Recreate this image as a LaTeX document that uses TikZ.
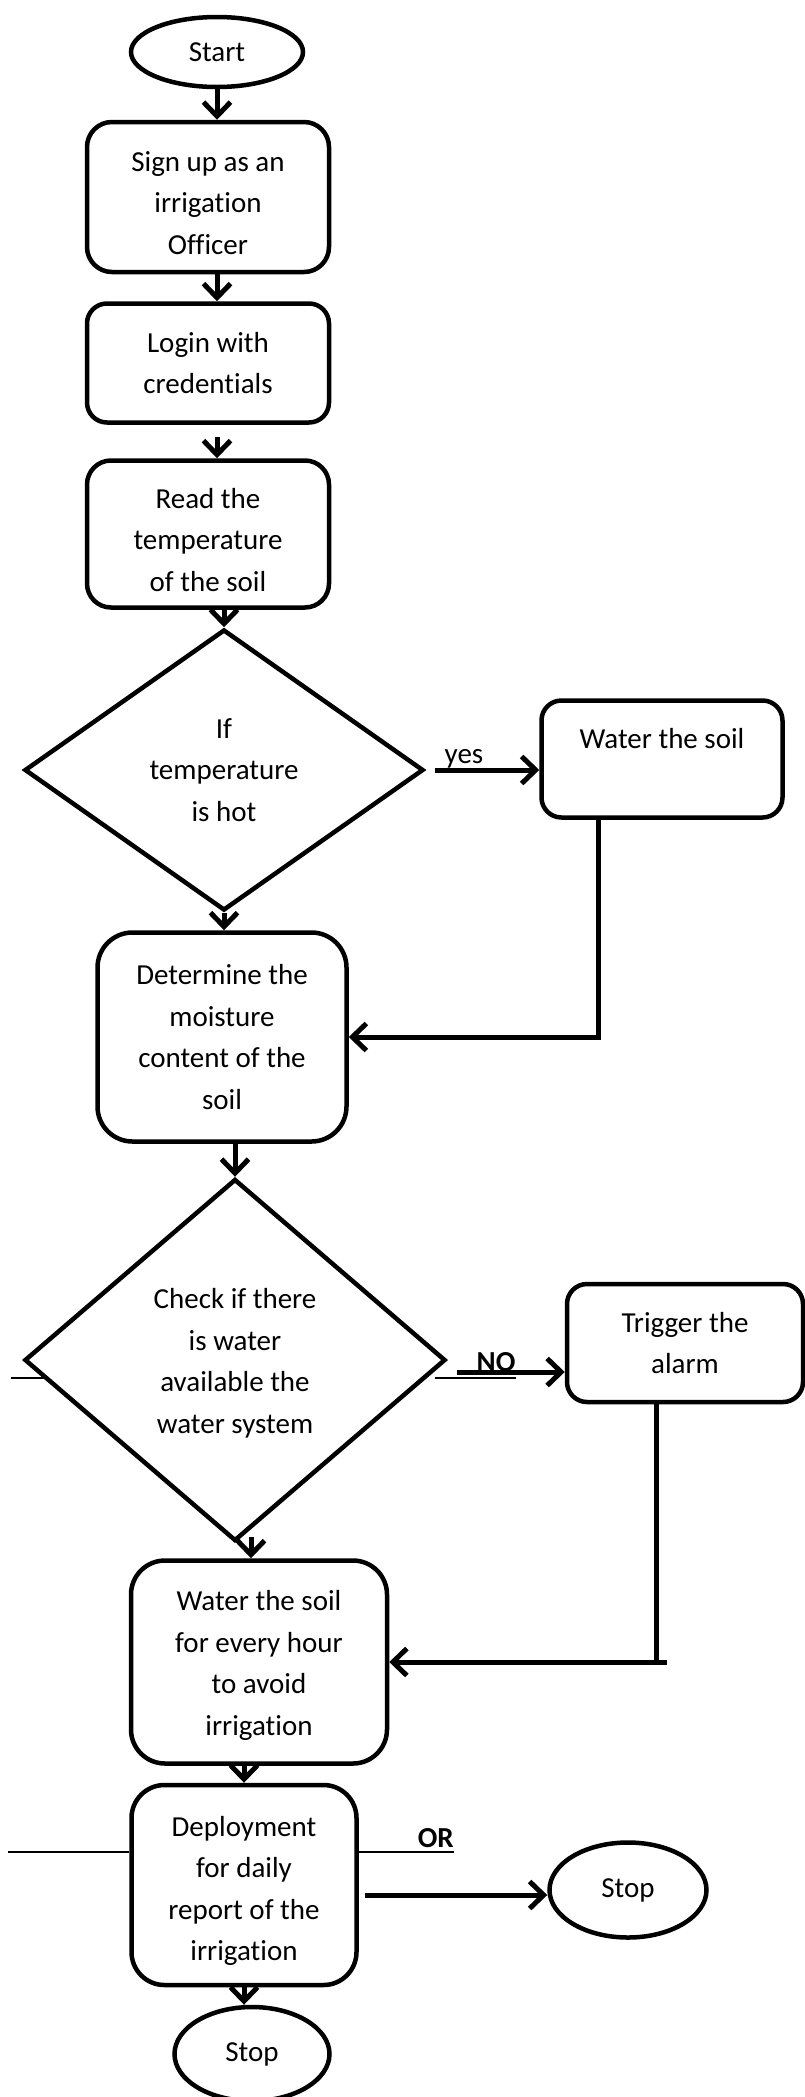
\documentclass[tikz,border=0pt]{standalone}
\usepackage{fontspec}
\setmainfont{Carlito}[Ligatures=NoCommon]
\usetikzlibrary{shapes.geometric,arrows.meta,calc}
\newcommand{\padtop}[1]{\rule{0pt}{#1}}

\begin{document}
\begin{tikzpicture}[x=1pt,y=-1pt,
    every node/.style={font=\fontsize{29}{41.5}\selectfont,align=center,inner sep=0},
    box/.style={draw,line width=4.5pt,rounded corners=#1,minimum width=242pt},
    box/.default=22pt,
    decision/.style={draw,diamond,line width=4.5pt},
    terminal/.style={draw,ellipse,line width=4.5pt},
    arr/.style={line width=5pt,-{Straight Barb[length=14pt,width=27pt]}},
    hairline/.style={line width=1.2pt}]
    \useasboundingbox (0,0) rectangle (804,2097);
    % main column
    \node[terminal,minimum width=172pt,minimum height=70pt] (start) at (217,52) {Start};
    \node[box=25pt,minimum height=150pt] (signup) at (208,197) {\padtop{32pt}Sign up as an\\irrigation\\Officer};
    \node[box=20pt,minimum height=119pt] (login) at (208,363) {Login with\\credentials};
    \node[box=24pt,minimum height=147pt] (readtemp) at (208,534) {\padtop{32pt}Read the\\temperature\\of the soil};
    \node[decision,minimum width=399pt,minimum height=281pt] (hot) at (224,770) {If\\temperature\\is hot};
    \node[box=35pt,minimum width=249pt,minimum height=209pt] (moisture) at (222,1037) {Determine the\\moisture\\content of the\\soil};
    \node[decision,minimum width=421pt,minimum height=362pt] (avail) at (235,1360) {\padtop{27pt}Check if there\\is water\\available the\\water system};
    \node[box=34pt,minimum width=256pt,minimum height=203pt] (waterhour) at (259,1662) {\padtop{27pt}Water the soil\\for every hour\\to avoid\\irrigation};
    \node[box=33pt,minimum width=225pt,minimum height=200pt] (deploy) at (244,1885) {\padtop{32pt}Deployment\\for daily\\report of the\\irrigation};
    \node[terminal,minimum width=155pt,minimum height=94pt] (stopbottom) at (252,2054) {Stop};
    % side column
    \node[box=20pt,minimum width=241pt,minimum height=117pt] (soak) at (662,759) {Water the soil\\ \mbox{}};
    \node[box=20pt,minimum width=236pt,minimum height=118pt] (alarm) at (685,1343) {Trigger the\\alarm};
    \node[terminal,minimum width=157pt,minimum height=95pt] (stopright) at (628,1890) {Stop};
    % labels
    \node[anchor=base] (yeslbl) at (464,763) {yes};
    \node[anchor=base] (nolbl) at (496,1371) {\bfseries NO};
    \node[anchor=base east] (orlbl) at (454,1847) {\bfseries OR};

    \draw[arr] (start.south) -- (start.south |- signup.north);
    \draw[arr] (start.south |- signup.south) -- (start.south |- login.north);
    \draw[arr,shorten <=12pt] (start.south |- login.south) -- (start.south |- readtemp.north);
    \draw[arr] (hot.north |- readtemp.south) -- (hot.north);
    \draw[arr] (hot.south) -- (hot.south |- moisture.north);
    \draw[arr,shorten <=9pt] (hot.east) -- (hot.east -| soak.west);
    \draw[arr] ([xshift=-64pt]soak.south) |- (moisture.east);
    \draw[arr] (avail.north |- moisture.south) -- (avail.north);
    \coordinate (noout) at ($(avail.east)+(-13,12)$);
    \draw[arr,shorten <=22pt] (noout) -- (noout -| alarm.west);
    \draw[hairline] ($(avail.east)+(-13,18)$) -- ($(nolbl.base east)+(0,7)$);
    \draw[hairline] (11,1378) -- (44,1378);
    \coordinate (alarmout) at ([xshift=-29pt]alarm.south);
    \draw[arr] (alarmout) -- (alarmout |- waterhour.east) ++(11,0) -- (waterhour.east);
    \coordinate (availout) at ($(avail.south)+(16,-6)$);
    \draw[arr] (availout) -- (availout |- waterhour.north);
    \draw[arr] (deploy.north |- waterhour.south) -- (deploy.north);
    \draw[arr] (deploy.south) -- (deploy.south |- stopbottom.north);
    \coordinate (deployout) at ($(deploy.east)+(6,10)$);
    \draw[arr] (deployout) -- (deployout -| stopright.west);
    \draw[hairline] ($(deploy.west)+(0,-33)$) -- ++(-121,0);
    \draw[hairline] ($(deploy.east)+(0,-33)$) -- ($(orlbl.base east)+(0,5)$);
\end{tikzpicture}
\end{document}
